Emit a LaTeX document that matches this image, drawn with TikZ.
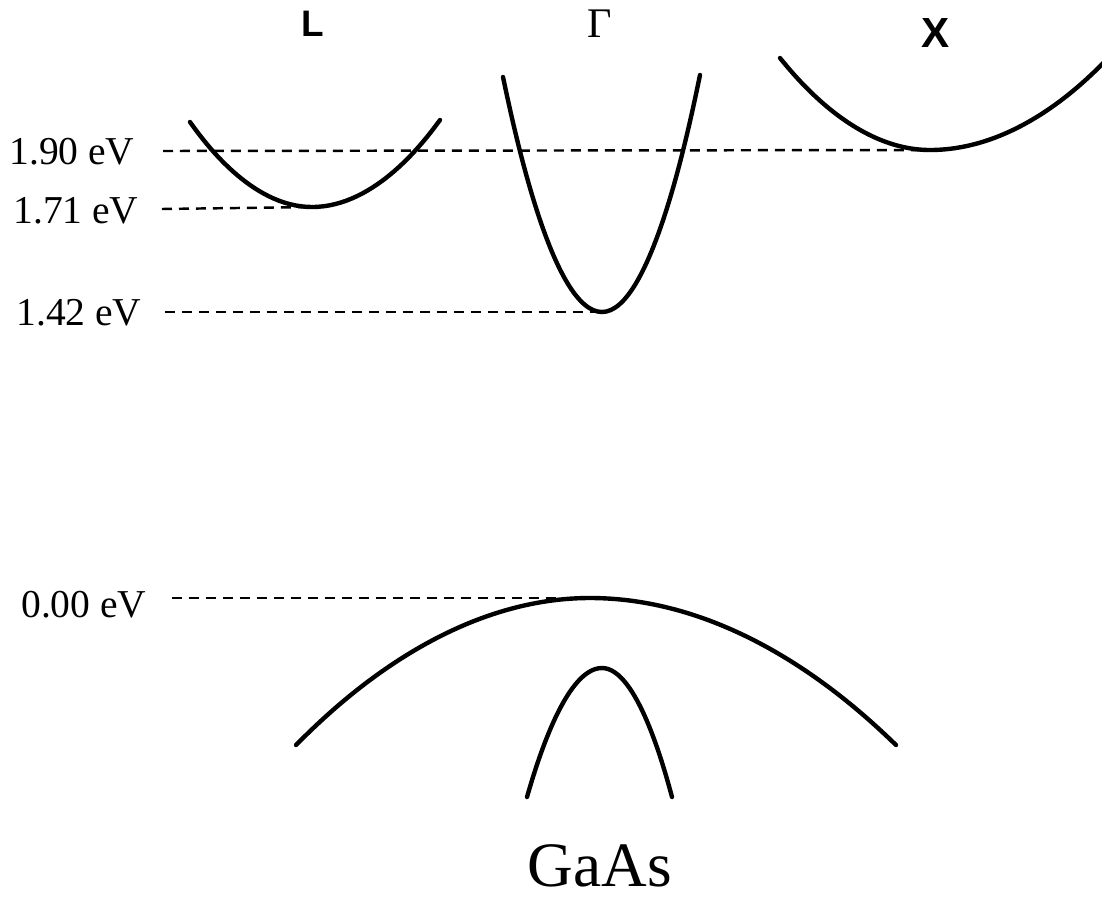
\documentclass[tikz,border=0pt]{standalone}
\usepackage{fontspec}
\setmainfont{Liberation Serif}
\newfontfamily\lblsans{Liberation Sans}
\begin{document}
\begin{tikzpicture}[x=0.02cm,y=-0.02cm,
  band/.style={line width=2.5pt,line cap=round},
  level/.style={line width=1.4pt,dash pattern=on 0.2cm off 0.14cm},
  elabel/.style={font=\fontsize{22.5}{25}\selectfont,inner sep=0pt,anchor=west},
  klabel/.style={font=\lblsans\bfseries\fontsize{21}{24}\selectfont,inner sep=0pt}]
\useasboundingbox (0,0) rectangle (1102,900);
% curve points
\coordinate (La) at (190,122); \coordinate (Lm) at (312,207); \coordinate (Lb) at (440,120);
\coordinate (Ga) at (503,77);  \coordinate (Gm) at (602,312); \coordinate (Gb) at (700,75);
\coordinate (Xa) at (780,58);  \coordinate (Xm) at (930,150); \coordinate (Xb) at (1110,56);
\coordinate (Va) at (296,745); \coordinate (Vm) at (590,598); \coordinate (Vb) at (896,745);
\coordinate (Sa) at (527,797); \coordinate (Sm) at (602,668); \coordinate (Sb) at (672,797);
% bands
\draw[band] (La) parabola bend (Lm) (Lb);
\draw[band] (Ga) parabola bend (Gm) (Gb);
\draw[band] (Xa) parabola bend (Xm) (Xb);
\draw[band] (Va) parabola bend (Vm) (Vb);
\draw[band] (Sa) parabola bend (Sm) (Sb);
% labels
\node[elabel] (e190) at (9,152) {1.90 eV};
\node[elabel] (e171) at (13,211) {1.71 eV};
\node[elabel] (e142) at (16,313) {1.42 eV};
\node[elabel] (e000) at (21,605) {0.00 eV};
\coordinate (d190) at (163,151);
\coordinate (d171) at (162,209);
\coordinate (d142) at (165,312);
\coordinate (d000) at (172,598);
\draw[level] (d190) -- (Xm);
\draw[level] (d171) -- (Lm);
\draw[level] (d142) -- (Gm);
\draw[level] (d000) -- (Vm);
% point labels
\node[klabel] (kL) at (313,24) {L};
\node[font=\fontsize{24}{26}\selectfont,inner sep=0pt] (kG) at (600,24) {Γ};
\node[klabel,font=\lblsans\bfseries\fontsize{24}{26}\selectfont] (kX) at (936,33) {X};
\node[font=\fontsize{36}{40}\selectfont,inner sep=0pt] (title) at (600,866) {GaAs};
\end{tikzpicture}
\end{document}
